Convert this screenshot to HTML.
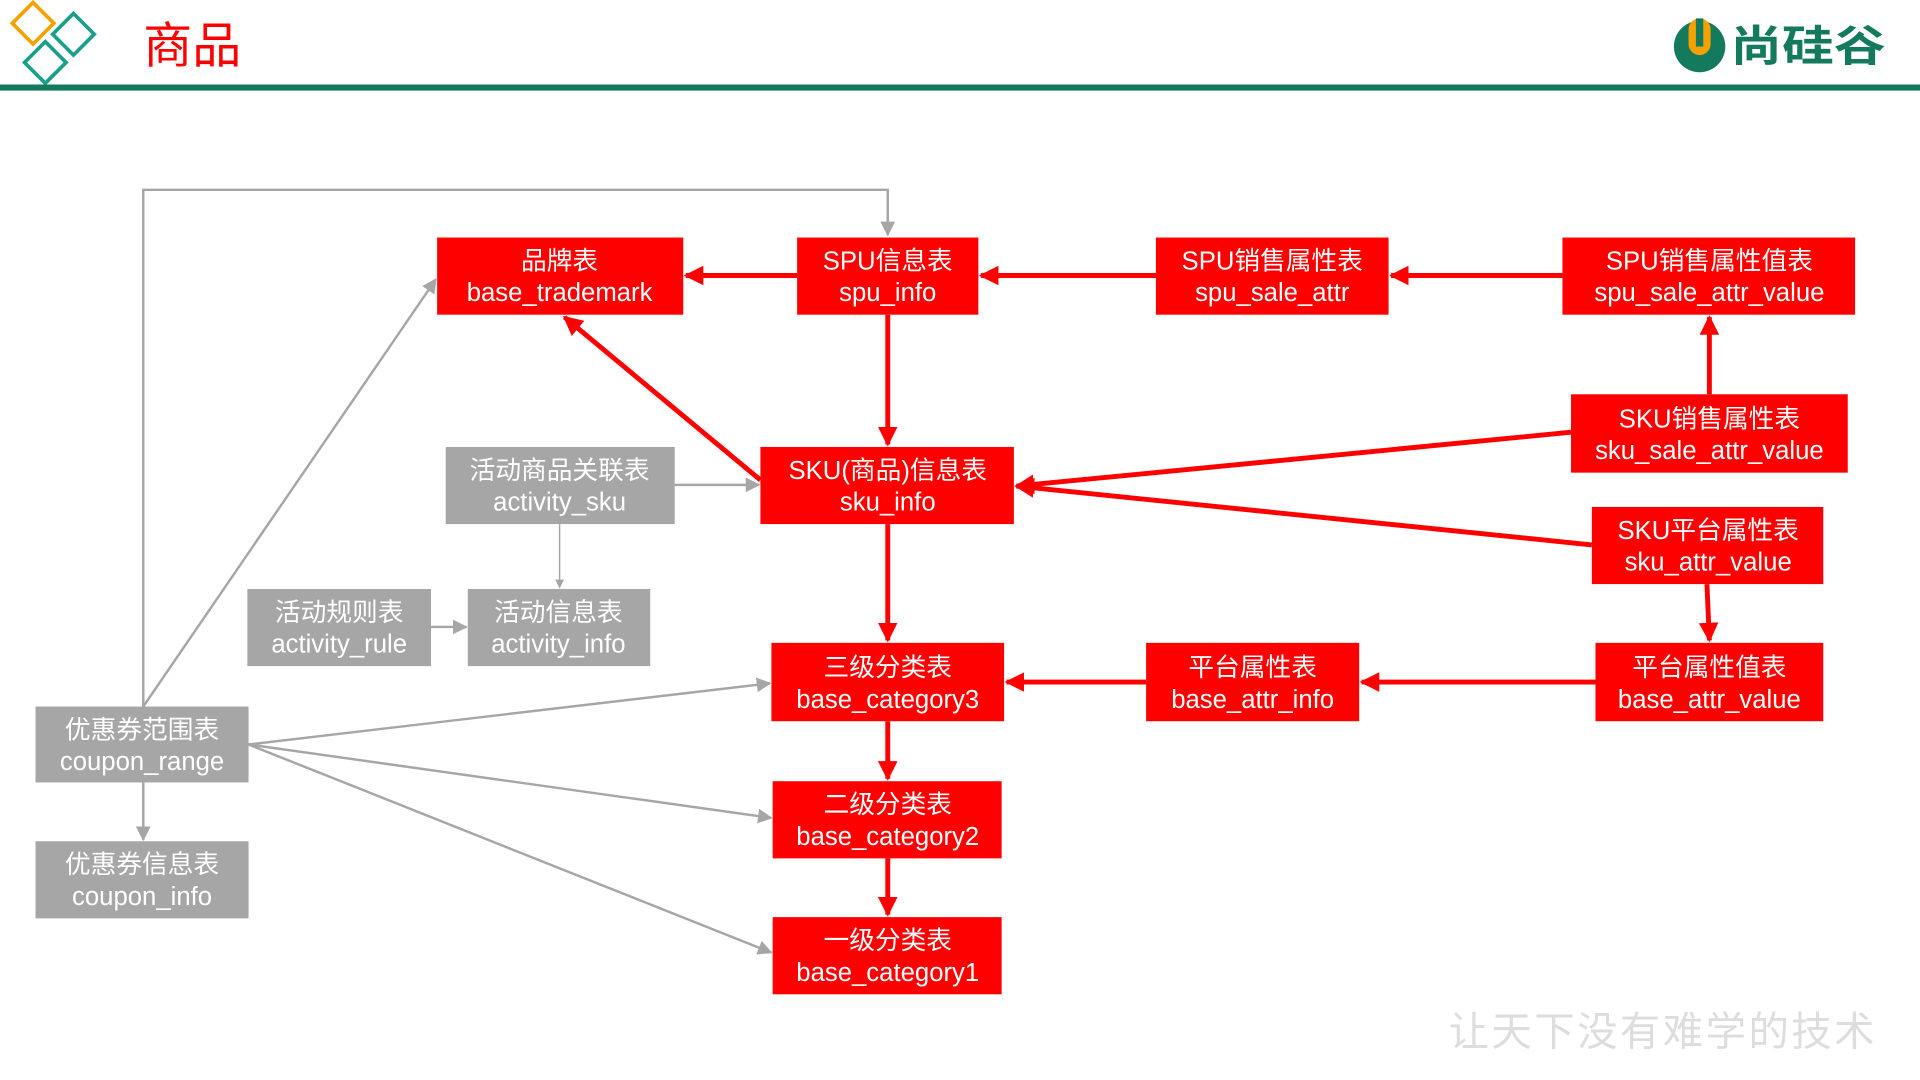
<!DOCTYPE html>
<html><head><meta charset="utf-8"><style>
html,body{margin:0;padding:0;background:#fff;width:1920px;height:1080px;overflow:hidden}
svg{display:block}
text{font-family:"Liberation Sans","Noto Sans CJK SC",sans-serif}
</style></head><body>
<svg width="1920" height="1080" viewBox="0 0 1568 882" xmlns="http://www.w3.org/2000/svg">
<defs>
<marker id="r" markerWidth="4" markerHeight="4" refX="3.6" refY="2" orient="auto" markerUnits="strokeWidth"><path d="M0,0 L4,2 L0,4 z" fill="#ff0000"/></marker>
<marker id="g" markerWidth="6" markerHeight="6" refX="5.5" refY="3" orient="auto" markerUnits="strokeWidth"><path d="M0,0 L6,3 L0,6 z" fill="#a6a6a6"/></marker>
</defs>
<!-- header -->
<g fill="none" stroke-width="3">
<rect x="15" y="7" width="24" height="24" transform="rotate(45 27 19)" stroke="#f5a200"/>
<rect x="48" y="16" width="24" height="24" transform="rotate(45 60 28)" stroke="#1aa08a"/>
<rect x="25" y="39" width="24" height="24" transform="rotate(45 37 51)" stroke="#1aa08a"/>
</g>
<text x="117" y="51" font-size="40" fill="#ff0000">商品</text>
<rect x="0" y="69" width="1568" height="5" fill="#137a5e"/>
<circle cx="1388" cy="38" r="21" fill="#137a5e"/>
<rect x="1379" y="15" width="18" height="30" rx="9" fill="#f5a200"/>
<rect x="1385" y="15" width="6" height="23" fill="#137a5e"/>
<text x="1413" y="50" font-size="35" font-weight="bold" fill="#137a5e" textLength="127" lengthAdjust="spacingAndGlyphs">尚硅谷</text>
<text x="1183" y="854" font-size="33" fill="#dddddd" font-family="'Noto Serif CJK SC',serif" letter-spacing="2">让天下没有难学的技术</text>

<!-- gray connectors -->
<g stroke="#a6a6a6" stroke-width="2" fill="none">
<polyline points="117,577 117,155 725,155 725,192" marker-end="url(#g)"/>
<line x1="117" y1="577" x2="356" y2="228" marker-end="url(#g)"/>
<line x1="203" y1="608" x2="629" y2="558" marker-end="url(#g)"/>
<line x1="203" y1="608" x2="630" y2="668" marker-end="url(#g)"/>
<line x1="203" y1="608" x2="630" y2="778" marker-end="url(#g)"/>
<line x1="117" y1="639" x2="117" y2="686" marker-end="url(#g)"/>
<line x1="551" y1="396" x2="620" y2="396" marker-end="url(#g)"/>
<line x1="457" y1="428" x2="457" y2="480" stroke-width="1.2" marker-end="url(#g)"/>
<line x1="352" y1="512" x2="381" y2="512" marker-end="url(#g)"/>
</g>
<!-- red connectors -->
<g stroke="#ff0000" stroke-width="4" fill="none">
<line x1="651" y1="225" x2="560" y2="225" marker-end="url(#r)"/>
<line x1="944" y1="225" x2="801" y2="225" marker-end="url(#r)"/>
<line x1="1276" y1="225" x2="1136" y2="225" marker-end="url(#r)"/>
<line x1="1396" y1="322" x2="1396" y2="259" marker-end="url(#r)"/>
<line x1="725" y1="257" x2="725" y2="363" marker-end="url(#r)"/>
<line x1="621" y1="392" x2="461" y2="259" marker-end="url(#r)"/>
<line x1="1283" y1="353" x2="830" y2="397" marker-end="url(#r)"/>
<line x1="1300" y1="445" x2="830" y2="397" marker-end="url(#r)"/>
<line x1="1394" y1="477" x2="1396" y2="523" marker-end="url(#r)"/>
<line x1="1303" y1="557" x2="1112" y2="557" marker-end="url(#r)"/>
<line x1="936" y1="557" x2="822" y2="557" marker-end="url(#r)"/>
<line x1="725" y1="428" x2="725" y2="523" marker-end="url(#r)"/>
<line x1="725" y1="589" x2="725" y2="636" marker-end="url(#r)"/>
<line x1="725" y1="701" x2="725" y2="747" marker-end="url(#r)"/>
</g>

<!-- boxes -->
<g font-size="21" fill="#fff" text-anchor="middle">
<rect x="357" y="194" width="201" height="63" fill="#ff0000"/><text x="457" y="220">品牌表</text><text x="457" y="246">base_trademark</text>
<rect x="651" y="194" width="148" height="63" fill="#ff0000"/><text x="725" y="220">SPU信息表</text><text x="725" y="246">spu_info</text>
<rect x="944" y="194" width="190" height="63" fill="#ff0000"/><text x="1039" y="220">SPU销售属性表</text><text x="1039" y="246">spu_sale_attr</text>
<rect x="1276" y="194" width="239" height="63" fill="#ff0000"/><text x="1396" y="220">SPU销售属性值表</text><text x="1396" y="246">spu_sale_attr_value</text>
<rect x="1283" y="322" width="226" height="64" fill="#ff0000"/><text x="1396" y="349">SKU销售属性表</text><text x="1396" y="375">sku_sale_attr_value</text>
<rect x="621" y="365" width="207" height="63" fill="#ff0000"/><text x="725" y="391">SKU(商品)信息表</text><text x="725" y="417">sku_info</text>
<rect x="1300" y="414" width="189" height="63" fill="#ff0000"/><text x="1395" y="440">SKU平台属性表</text><text x="1395" y="466">sku_attr_value</text>
<rect x="630" y="525" width="190" height="64" fill="#ff0000"/><text x="725" y="552">三级分类表</text><text x="725" y="578">base_category3</text>
<rect x="936" y="525" width="174" height="64" fill="#ff0000"/><text x="1023" y="552">平台属性表</text><text x="1023" y="578">base_attr_info</text>
<rect x="1303" y="525" width="186" height="64" fill="#ff0000"/><text x="1396" y="552">平台属性值表</text><text x="1396" y="578">base_attr_value</text>
<rect x="631" y="638" width="187" height="63" fill="#ff0000"/><text x="725" y="664">二级分类表</text><text x="725" y="690">base_category2</text>
<rect x="631" y="749" width="187" height="63" fill="#ff0000"/><text x="725" y="775">一级分类表</text><text x="725" y="801">base_category1</text>
<rect x="364" y="365" width="187" height="63" fill="#a6a6a6"/><text x="457" y="391">活动商品关联表</text><text x="457" y="417">activity_sku</text>
<rect x="202" y="481" width="150" height="63" fill="#a6a6a6"/><text x="277" y="507">活动规则表</text><text x="277" y="533">activity_rule</text>
<rect x="382" y="481" width="149" height="63" fill="#a6a6a6"/><text x="456" y="507">活动信息表</text><text x="456" y="533">activity_info</text>
<rect x="29" y="577" width="174" height="62" fill="#a6a6a6"/><text x="116" y="603">优惠券范围表</text><text x="116" y="629">coupon_range</text>
<rect x="29" y="687" width="174" height="63" fill="#a6a6a6"/><text x="116" y="713">优惠券信息表</text><text x="116" y="739">coupon_info</text>
</g>
</svg>
</body></html>
